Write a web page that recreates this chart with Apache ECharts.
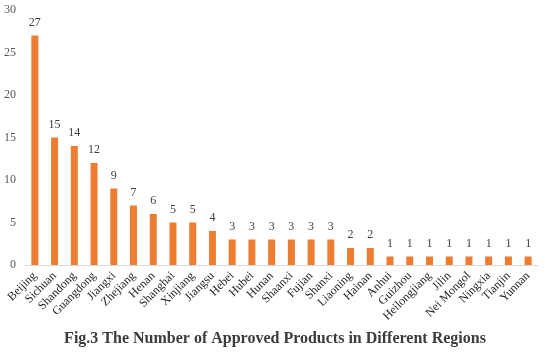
<!DOCTYPE html>
<html><head><meta charset="utf-8">
<script src="https://cdn.jsdelivr.net/npm/echarts@6/dist/echarts.min.js"></script>
<style>html,body{margin:0;padding:0;background:#fff}#c{width:550px;height:356px}</style>
</head><body><div id="c"></div>
<script>
const categories = ["Beijing","Sichuan","Shandong","Guangdong","Jiangxi","Zhejiang","Henan","Shanghai","Xinjiang","Jiangsu","Hebei","Hubei","Hunan","Shaanxi","Fujian","Shanxi","Liaoning","Hainan","Anhui","Guizhou","Heilongjiang","Jilin","Nei Mongol","Ningxia","Tianjin","Yunnan"];
const values = [27,15,14,12,9,7,6,5,5,4,3,3,3,3,3,3,2,2,1,1,1,1,1,1,1,1];
const yTicks = {min:0, max:30, interval:5};
const titleText = "Fig.3 The Number of Approved Products in Different Regions";

const chart = echarts.init(document.getElementById('c'), null, {renderer:'canvas'});
chart.setOption({
  animation:false,
  title:{text:titleText, left:'center', top:331, padding:0, textStyle:{fontFamily:'Liberation Serif', fontSize:16, fontWeight:'bold', color:'#3c3c3c'}},
  grid:{left:25, right:12, top:10, bottom:91, containLabel:false},
  xAxis:{type:'category', data:categories,
    axisLine:{lineStyle:{color:'#d9d9d9'}}, axisTick:{show:false},
    axisLabel:{interval:0, rotate:45, fontFamily:'Liberation Serif', fontSize:12, color:'#262626', margin:9}},
  yAxis:{type:'value', min:yTicks.min, max:yTicks.max, interval:yTicks.interval,
    axisLine:{show:false}, axisTick:{show:false}, splitLine:{show:false},
    axisLabel:{fontFamily:'Liberation Serif', fontSize:12, color:'#595959', margin:9}},
  series:[{type:'bar', data:values, barWidth:7, itemStyle:{color:'#ED7D31'},
    label:{show:true, position:'top', distance:7, fontFamily:'Liberation Serif', fontSize:12, color:'#404040'}}]
});
</script></body></html>
